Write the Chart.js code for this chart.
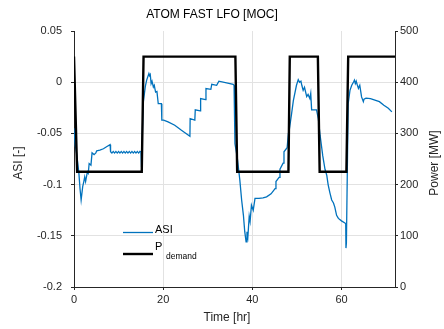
<!DOCTYPE html>
<html><head><meta charset="utf-8">
<script src="https://cdn.jsdelivr.net/npm/chart.js@4/dist/chart.umd.min.js"></script>
<style>html,body{margin:0;padding:0;background:#fff}#wrap{width:444px;height:329px;position:relative}</style>
</head><body><div id="wrap"><canvas id="c" width="444" height="329"></canvas></div>
<script>
const chartTitle = 'ATOM FAST LFO [MOC]';
const xTitle = 'Time [hr]';
const yLeftTitle = 'ASI [-]';
const yRightTitle = 'Power [MW]';
const legendAsi = 'ASI';
const legendP = 'P';
const legendPSub = 'demand';

const xTicks = [0, 20, 40, 60];
const asiTicks = [0.05, 0, -0.05, -0.1, -0.15, -0.2];
const powerTicks = [500, 400, 300, 200, 100, 0];

const asiTime = [0, 0.3, 0.6, 1.1, 1.35, 1.6, 1.95, 2.2, 2.4, 2.6, 3.0, 3.2, 3.4, 3.8, 4.05, 4.5, 4.9, 5.1, 5.8, 6.6, 7.3, 8.1, 8.2,
  8.5, 8.8, 9.1, 9.4, 9.7, 10.0, 10.3, 10.6, 10.9, 11.2, 11.5, 11.8, 12.1, 12.4, 12.7, 13.0, 13.3, 13.6, 13.9, 14.2, 14.5, 14.8, 15.0,
  15.15, 15.5, 16.0, 16.3, 16.8, 16.95, 17.1, 17.3, 17.5, 17.8, 18.0, 18.3, 18.6, 18.9, 19.6, 19.7, 20.1, 21.1, 22.6, 24.1, 26.0,
  26.05, 27.1, 27.2, 28.3, 28.4, 29.5, 29.6, 30.7, 30.9, 32.0, 32.5, 35.7, 35.9, 36.1, 36.6, 37.2, 37.6, 38.0, 38.3, 38.6, 38.8, 39.0,
  39.3, 39.5, 39.8, 40.2, 40.6, 41.5, 42.4, 43.2, 44.2, 45.1, 45.3, 46.0, 46.2, 46.9, 47.1, 47.8, 48.1, 48.3, 48.8, 49.2, 49.9,
  50.3, 50.6, 50.9, 51.1, 51.4, 51.7, 52.2, 52.5, 52.9, 53.1, 53.3, 54.4, 54.8, 55.2, 55.8, 56.3, 56.7, 57.0, 57.4, 57.8, 58.2,
  58.5, 58.9, 59.3, 60.0, 60.95, 61.0, 61.1, 61.5, 61.9, 62.3, 62.7, 62.9, 63.1, 63.3, 63.5, 63.8, 64.1, 64.5, 64.9, 65.05,
  65.5, 66.5, 67.5, 68.5, 69.5, 70.5, 71.3, 72];
const asiValue = [-0.045, -0.062, -0.070, -0.089, -0.104, -0.115, -0.102, -0.097, -0.0925, -0.097, -0.0876, -0.089, -0.0794, -0.081, -0.069, -0.0707, -0.069, -0.067, -0.0664, -0.065, -0.063, -0.061, -0.068,
  -0.0692, -0.0676, -0.0692, -0.0676, -0.0692, -0.0676, -0.0692, -0.0676, -0.0692, -0.0676, -0.0692, -0.0676, -0.0692, -0.0676, -0.0692, -0.0676, -0.0692, -0.0676, -0.0692, -0.0676, -0.0692, -0.0676, -0.068,
  -0.083, -0.021, -0.004, 0.002, 0.0084, 0.0065, 0.0075, -0.0014, 0.001, -0.0047, -0.003, -0.0096, -0.009, -0.021, -0.021, -0.037, -0.037, -0.0388, -0.042, -0.047, -0.0528,
  -0.0355, -0.037, -0.027, -0.028, -0.016, -0.017, -0.0062, -0.007, -0.002, -0.003, 0.001, -0.002, -0.003, -0.060, -0.073, -0.0957, -0.115, -0.130, -0.146, -0.156, -0.146, -0.151,
  -0.131, -0.136, -0.120, -0.125, -0.1135, -0.1135, -0.113, -0.112, -0.109, -0.104, -0.097, -0.093, -0.085, -0.079, -0.068, -0.064, -0.050, -0.046, -0.031, -0.018, -0.003,
  0.0025, 0.0, 0.001, -0.003, -0.008, -0.005, -0.014, -0.012, -0.016, -0.011, -0.027, -0.027, -0.0355, -0.052, -0.072, -0.085, -0.091, -0.100, -0.108, -0.115, -0.118,
  -0.122, -0.130, -0.133, -0.1354, -0.138, -0.162, -0.157, -0.021, -0.008, -0.003, 0.0002, 0.002, -0.0014, 0.001, -0.002, -0.006, -0.003, -0.0144, -0.019,
  -0.0165, -0.0155, -0.016, -0.0175, -0.019, -0.0225, -0.0255, -0.029];

const pTime = [0, 0.7, 15.2, 15.6, 36.2, 36.6, 48.1, 48.4, 54.7, 55.1, 61.1, 61.5, 72];
const pValue = [450, 225, 225, 450, 450, 225, 225, 450, 450, 225, 225, 450, 450];

const asiColor = '#0072BD';
const pColor = '#000000';
const axisColor = '#262626';
const gridColor = '#e2e2e2';
const fontFamily = '"Liberation Sans", Arial, Helvetica, sans-serif';

const asiData = asiTime.map((t, i) => ({x: t, y: asiValue[i]}));
const pData = pTime.map((t, i) => ({x: t, y: pValue[i]}));

const overlay = {
  id: 'overlay',
  afterDraw(chart) {
    const ctx = chart.ctx;
    const a = chart.chartArea;
    ctx.save();
    ctx.fillStyle = '#000';
    ctx.font = '12px ' + fontFamily;
    ctx.textAlign = 'center';
    ctx.textBaseline = 'middle';
    ctx.fillText(chartTitle, 212, 15);
    ctx.fillStyle = axisColor;
    ctx.font = '12px ' + fontFamily;
    ctx.fillText(xTitle, 227, 318);
    ctx.save();
    ctx.translate(19, 163);
    ctx.rotate(-Math.PI / 2);
    ctx.fillText(yLeftTitle, 0, 0);
    ctx.restore();
    ctx.save();
    ctx.translate(435, 163);
    ctx.rotate(-Math.PI / 2);
    ctx.fillText(yRightTitle, 0, 0);
    ctx.restore();
    // legend
    ctx.lineWidth = 1.3;
    ctx.strokeStyle = asiColor;
    ctx.beginPath(); ctx.moveTo(123, 232.5); ctx.lineTo(153, 232.5); ctx.stroke();
    ctx.lineWidth = 2.4;
    ctx.strokeStyle = pColor;
    ctx.beginPath(); ctx.moveTo(123, 254); ctx.lineTo(153, 254); ctx.stroke();
    ctx.textAlign = 'left';
    ctx.fillStyle = '#000';
    ctx.font = '11px ' + fontFamily;
    ctx.fillText(legendAsi, 155, 230);
    ctx.fillText(legendP, 155, 247);
    ctx.font = '8.5px ' + fontFamily;
    ctx.fillText(legendPSub, 166, 257);
    ctx.restore();
  }
};

new Chart(document.getElementById('c'), {
  type: 'line',
  data: {
    datasets: [
      {label: 'P_demand', data: pData, yAxisID: 'y1', borderColor: pColor, borderWidth: 2.4, pointRadius: 0, tension: 0, order: 0},
      {label: 'ASI', data: asiData, yAxisID: 'y', borderColor: asiColor, borderWidth: 1.3, pointRadius: 0, tension: 0, order: 1}
    ]
  },
  options: {
    responsive: false,
    devicePixelRatio: 1,
    animation: false,
    layout: {padding: {top: 31, left: 0, right: 0, bottom: 0}},
    plugins: {legend: {display: false}, tooltip: {enabled: false}, title: {display: false}},
    scales: {
      x: {
        type: 'linear', position: 'bottom', min: 0, max: 72,
        afterBuildTicks: s => { s.ticks = xTicks.map(v => ({value: v})); },
        afterFit: s => { s.height = 42; },
        ticks: {color: axisColor, font: {size: 11, family: fontFamily}, padding: 3, maxRotation: 0, callback: v => String(v)},
        grid: {color: gridColor, tickColor: axisColor, tickLength: 3, lineWidth: 1},
        border: {color: axisColor, width: 1}
      },
      y: {
        type: 'linear', position: 'left', min: -0.2, max: 0.05,
        afterBuildTicks: s => { s.ticks = asiTicks.map(v => ({value: v})); },
        afterFit: s => { s.width = 74; },
        ticks: {color: axisColor, font: {size: 11, family: fontFamily}, padding: 9, callback: v => String(Math.round(v * 100) / 100)},
        grid: {color: c => (c.tick && c.tick.value === 0.05) ? 'rgba(0,0,0,0)' : gridColor, tickColor: axisColor, tickLength: 3},
        border: {color: axisColor, width: 1}
      },
      y1: {
        type: 'linear', position: 'right', min: 0, max: 500,
        afterBuildTicks: s => { s.ticks = powerTicks.map(v => ({value: v})); },
        afterFit: s => { s.width = 49; },
        ticks: {color: axisColor, font: {size: 11, family: fontFamily}, padding: 2, callback: v => String(v)},
        grid: {drawOnChartArea: false, tickColor: axisColor, tickLength: 3},
        border: {color: axisColor, width: 1}
      }
    }
  },
  plugins: [overlay]
});
</script></body></html>
